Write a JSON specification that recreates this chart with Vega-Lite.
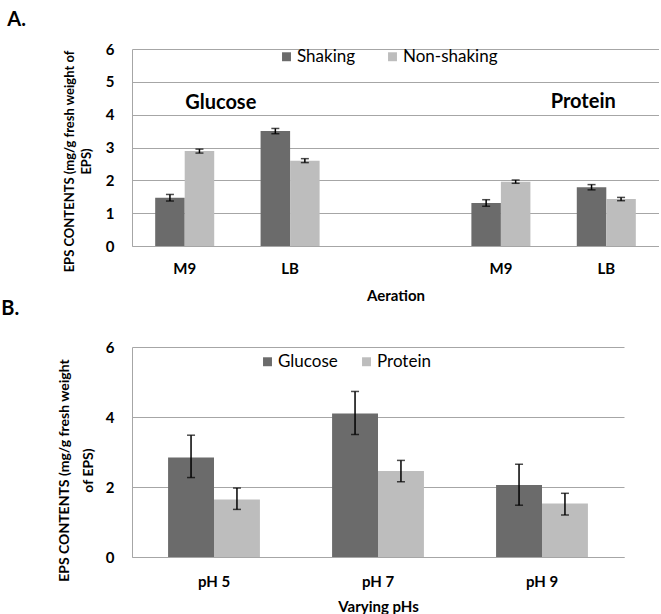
{
  "$schema": "https://vega.github.io/schema/vega-lite/v6.json",
  "background": "white",
  "padding": {"left": 1, "top": 10, "right": 0, "bottom": 0},
  "spacing": -4,
  "config": {
    "font": "Lato",
    "view": {"stroke": null},
    "axis": {"labelFontWeight": "bold", "titleFontWeight": "bold", "labelColor": "#000000", "titleColor": "#000000", "ticks": false, "domainColor": "#a6a6a6", "gridColor": "#a6a6a6"},
    "legend": {"labelFontSize": 17, "labelColor": "#000000", "symbolType": "square", "symbolSize": 80, "symbolStrokeWidth": 0}
  },
  "datasets": {
    "a": [
      {"pos": "G-M9", "aeration": "Shaking", "value": 1.47, "lo": 1.37, "hi": 1.57},
      {"pos": "G-M9", "aeration": "Non-shaking", "value": 2.89, "lo": 2.83, "hi": 2.95},
      {"pos": "G-LB", "aeration": "Shaking", "value": 3.5, "lo": 3.42, "hi": 3.58},
      {"pos": "G-LB", "aeration": "Non-shaking", "value": 2.6, "lo": 2.54, "hi": 2.66},
      {"pos": "P-M9", "aeration": "Shaking", "value": 1.31, "lo": 1.21, "hi": 1.41},
      {"pos": "P-M9", "aeration": "Non-shaking", "value": 1.96, "lo": 1.91, "hi": 2.01},
      {"pos": "P-LB", "aeration": "Shaking", "value": 1.79, "lo": 1.71, "hi": 1.87},
      {"pos": "P-LB", "aeration": "Non-shaking", "value": 1.43, "lo": 1.38, "hi": 1.48}
    ],
    "notes": [
      {"pos": "G-M9", "label": "Glucose", "y": 4.35, "side": "left"},
      {"pos": "P-LB", "label": "Protein", "y": 4.38, "side": "right"}
    ],
    "b": [
      {"ph": "pH 5", "substrate": "Glucose", "value": 2.84, "lo": 2.27, "hi": 3.48},
      {"ph": "pH 5", "substrate": "Protein", "value": 1.64, "lo": 1.36, "hi": 1.97},
      {"ph": "pH 7", "substrate": "Glucose", "value": 4.1, "lo": 3.5, "hi": 4.73},
      {"ph": "pH 7", "substrate": "Protein", "value": 2.46, "lo": 2.15, "hi": 2.76},
      {"ph": "pH 9", "substrate": "Glucose", "value": 2.06, "lo": 1.48, "hi": 2.65},
      {"ph": "pH 9", "substrate": "Protein", "value": 1.53, "lo": 1.2, "hi": 1.82}
    ]
  },
  "resolve": {"scale": {"color": "independent", "x": "independent", "y": "independent", "xOffset": "independent"}, "legend": {"color": "independent"}},
  "vconcat": [
    {
      "width": 527,
      "height": 197,
      "title": {"text": "A.", "anchor": "start", "frame": "bounds", "fontSize": 20, "fontWeight": "bold", "dx": -56, "offset": 12},
      "encoding": {
        "x": {"field": "pos", "type": "nominal", "scale": {"domain": ["G-M9", "G-LB", "gap", "P-M9", "P-LB"], "paddingInner": 0.44, "paddingOuter": 0.22},
          "axis": {"title": "Aeration", "labelExpr": "datum.value == 'gap' ? '' : split(datum.value, '-')[1]", "labelAngle": 0, "labelFontSize": 15, "labelPadding": 15, "titleFontSize": 15, "titlePadding": 12}},
        "xOffset": {"field": "aeration", "type": "nominal", "scale": {"domain": ["Shaking", "Non-shaking"], "paddingInner": 0, "paddingOuter": 0}}
      },
      "layer": [
        {
          "data": {"name": "a"},
          "mark": {"type": "bar"},
          "encoding": {
            "y": {"field": "value", "type": "quantitative", "scale": {"domain": [0, 6]},
              "axis": {"values": [0, 1, 2, 3, 4, 5, 6], "tickCount": 7, "grid": true, "title": ["EPS CONTENTS (mg/g fresh weight of", "EPS)"], "titleFontSize": 13, "titleLineHeight": 17, "titleY": 112, "titlePadding": 12, "labelFontSize": 15, "labelPadding": 18}},
            "color": {"field": "aeration", "type": "nominal", "scale": {"domain": ["Shaking", "Non-shaking"], "range": ["#6b6b6b", "#bdbdbd"]},
              "legend": {"title": null, "orient": "none", "direction": "horizontal", "legendX": 146, "legendY": -1, "columnPadding": 28, "labelOffset": 2}}
          }
        },
        {
          "data": {"name": "a"},
          "mark": {"type": "rule", "color": "#000000", "strokeWidth": 1.5},
          "encoding": {
            "y": {"field": "lo", "type": "quantitative", "axis": {"values": [0, 1, 2, 3, 4, 5, 6], "tickCount": 7}},
            "y2": {"field": "hi"}
          }
        },
        {
          "data": {"name": "a"},
          "mark": {"type": "tick", "color": "#000000", "size": 8, "thickness": 1.5},
          "encoding": {
            "y": {"field": "lo", "type": "quantitative", "axis": {"values": [0, 1, 2, 3, 4, 5, 6], "tickCount": 7}}
          }
        },
        {
          "data": {"name": "a"},
          "mark": {"type": "tick", "color": "#000000", "size": 8, "thickness": 1.5},
          "encoding": {
            "y": {"field": "hi", "type": "quantitative", "axis": {"values": [0, 1, 2, 3, 4, 5, 6], "tickCount": 7}}
          }
        },
        {
          "data": {"name": "notes"},
          "transform": [{"filter": "datum.side == 'left'"}],
          "mark": {"type": "text", "align": "left", "baseline": "middle", "fontSize": 20, "fontWeight": "bold", "color": "#000000", "dx": 0},
          "encoding": {"xOffset": {"value": 30}, "y": {"field": "y", "type": "quantitative", "axis": {"values": [0, 1, 2, 3, 4, 5, 6], "tickCount": 7}}, "text": {"field": "label"}}
        },
        {
          "data": {"name": "notes"},
          "transform": [{"filter": "datum.side == 'right'"}],
          "mark": {"type": "text", "align": "right", "baseline": "middle", "fontSize": 20, "fontWeight": "bold", "color": "#000000", "dx": 9},
          "encoding": {"xOffset": {"value": 30}, "y": {"field": "y", "type": "quantitative", "axis": {"values": [0, 1, 2, 3, 4, 5, 6], "tickCount": 7}}, "text": {"field": "label"}}
        }
      ]
    },
    {
      "width": 492,
      "height": 210,
      "title": {"text": "B.", "anchor": "start", "frame": "bounds", "fontSize": 20, "fontWeight": "bold", "dx": -56, "offset": 21},
      "data": {"name": "b"},
      "encoding": {
        "x": {"field": "ph", "type": "nominal", "scale": {"paddingInner": 0.44, "paddingOuter": 0.22},
          "axis": {"title": "Varying pHs", "labelAngle": 0, "labelFontSize": 15, "labelPadding": 17, "titleFontSize": 15, "titlePadding": 10}},
        "xOffset": {"field": "substrate", "type": "nominal", "scale": {"domain": ["Glucose", "Protein"], "paddingInner": 0, "paddingOuter": 0}}
      },
      "layer": [
        {
          "mark": {"type": "bar"},
          "encoding": {
            "y": {"field": "value", "type": "quantitative", "scale": {"domain": [0, 6]},
              "axis": {"values": [0, 2, 4, 6], "grid": true, "title": ["EPS CONTENTS (mg/g fresh weight", "of EPS)"], "titleFontSize": 14, "titleLineHeight": 24, "titleY": 123, "titlePadding": 10, "labelFontSize": 15, "labelPadding": 18}},
            "color": {"field": "substrate", "type": "nominal", "scale": {"domain": ["Glucose", "Protein"], "range": ["#6b6b6b", "#bdbdbd"]},
              "legend": {"title": null, "orient": "none", "direction": "horizontal", "legendX": 127, "legendY": 6, "columnPadding": 20, "labelOffset": 2}}
          }
        },
        {
          "mark": {"type": "rule", "color": "#000000", "strokeWidth": 1.5},
          "encoding": {"y": {"field": "lo", "type": "quantitative"}, "y2": {"field": "hi"}}
        },
        {
          "mark": {"type": "tick", "color": "#000000", "size": 8, "thickness": 1.5},
          "encoding": {"y": {"field": "lo", "type": "quantitative"}}
        },
        {
          "mark": {"type": "tick", "color": "#000000", "size": 8, "thickness": 1.5},
          "encoding": {"y": {"field": "hi", "type": "quantitative"}}
        }
      ]
    }
  ]
}
